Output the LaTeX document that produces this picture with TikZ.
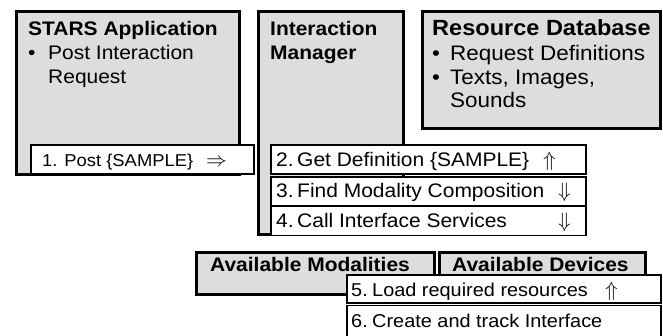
\documentclass[tikz,border=0pt]{standalone}
\usepackage{fontspec}
\setmainfont{Liberation Sans}[FakeStretch=1.07]
\definecolor{boxgray}{HTML}{DDDDDD}
\tikzset{
  x=1pt, y=-1pt,
  graybox/.style={draw, line width=3pt, fill=boxgray, rectangle, inner sep=0pt, anchor=north west},
  stepbox/.style={draw, line width=1.5pt, fill=white, rectangle, inner sep=0pt, anchor=north west},
  txt/.style={anchor=base west, inner sep=0pt, font=\fontsize{19.6}{23}\selectfont},
  ttl/.style={anchor=base west, inner sep=0pt, font=\fontsize{19.6}{23}\selectfont\bfseries},
  rdtxt/.style={anchor=base west, inner sep=0pt, font=\fontsize{21}{25}\selectfont},
  rdttl/.style={anchor=base west, inner sep=0pt, font=\fontsize{22}{25}\selectfont\bfseries},
  smtxt/.style={anchor=base west, inner sep=0pt, font=\fontsize{17.2}{21}\selectfont},
  lowtxt/.style={anchor=base west, inner sep=0pt, font=\fontsize{18.6}{22}\selectfont},
  arr/.style={anchor=base west, inner sep=0pt, font=\fontsize{20}{24}\selectfont},
}
\begin{document}
\begin{tikzpicture}
\useasboundingbox (0,0) rectangle (663,335);
% top boxes
\node[graybox, minimum width=223pt, minimum height=163pt] (stars) at (15,10) {};
\node[stepbox, minimum width=223pt, minimum height=29pt] (s1) at (30,144) {};
\node[graybox, minimum width=145pt, minimum height=223pt] (im) at (257,10) {};
\node[graybox, minimum width=238pt, minimum height=117pt] (rd) at (421,10) {};
\node[stepbox, minimum width=315pt, minimum height=29pt] (s2) at (270,144) {};
\node[stepbox, minimum width=315pt, minimum height=28.5pt] (s3) at (270,176) {};
\node[stepbox, minimum width=315pt, minimum height=29pt] (s4) at (270,205.5) {};
% bottom boxes
\node[graybox, minimum width=238pt, minimum height=42pt] (mod) at (195,251) {};
\node[graybox, minimum width=206.5pt, minimum height=42pt] (dev) at (437.5,251) {};
\node[stepbox, minimum width=314pt, minimum height=28pt] (s5) at (346,274) {};
\node[stepbox, minimum width=314pt, minimum height=45pt] (s6) at (346,304.5) {};
% texts
\node[ttl] (t1) at (28,35) {STARS Application};
\node[txt] (b1) at (28,59) {•};
\node[txt] (t1a) at (48,59) {Post Interaction};
\node[txt] (t1b) at (48,83) {Request};
\node[ttl] (t2) at (270,35) {Interaction};
\node[ttl] (t2b) at (270,59) {Manager};
\node[rdttl] (t3) at (432,35) {Resource Database};
\node[rdtxt] (b3a) at (432,60) {•};
\node[rdtxt] (t3a) at (450,60) {Request Definitions};
\node[rdtxt] (b3b) at (432,84) {•};
\node[rdtxt] (t3b) at (450,84) {Texts, Images,};
\node[rdtxt] (t3c) at (450,107) {Sounds};
\node[smtxt] (p1) at (42,166) {1. Post \{SAMPLE\}};
\node[arr] (a1) at (206,166) {$\Rightarrow$};
\node[txt] (n2) at (276,166) {2.};
\node[txt] (p2) at (297,166) {Get Definition \{SAMPLE\}};
\node[arr] (a2) at (543,166) {$\Uparrow$};
\node[txt] (n3) at (276,197) {3.};
\node[txt] (p3) at (297,197) {Find Modality Composition};
\node[arr] (a3) at (558,197) {$\Downarrow$};
\node[txt] (n4) at (276,227) {4.};
\node[txt] (p4) at (297,227) {Call Interface Services};
\node[arr] (a4) at (558,227) {$\Downarrow$};
\node[ttl] (t4) at (210,271) {Available Modalities};
\node[ttl] (t5) at (452,271) {Available Devices};
\node[lowtxt] (n5) at (351,296) {5.};
\node[lowtxt] (p5) at (372,296) {Load required resources};
\node[arr] (a5) at (605,296) {$\Uparrow$};
\node[lowtxt] (n6) at (351,327) {6.};
\node[lowtxt] (p6) at (372,327) {Create and track Interface};
\end{tikzpicture}
\end{document}
